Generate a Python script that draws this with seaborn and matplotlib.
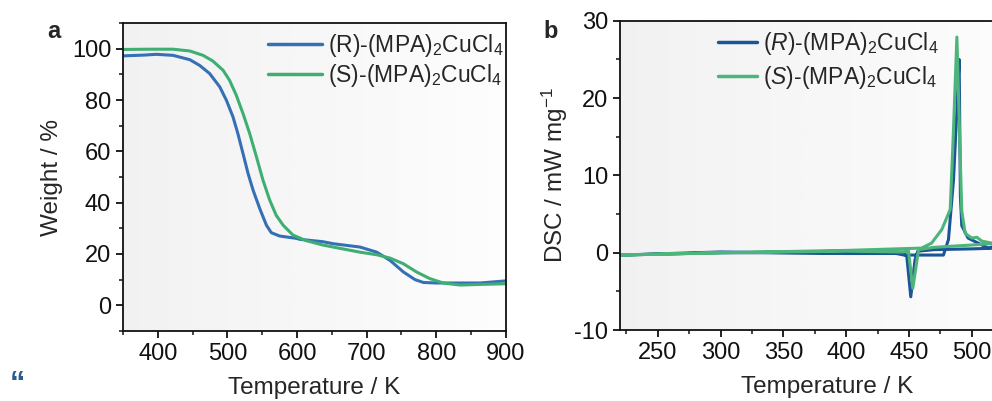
import numpy as np
import pandas as pd
import matplotlib
matplotlib.use("Agg")
import matplotlib.pyplot as plt
from matplotlib.ticker import MultipleLocator
import seaborn as sns

# TGA (panel a)
tga_R_T = [350, 380, 398, 422, 446, 460, 474.5, 489, 498.5, 508, 515, 522.4, 529.6, 536.8, 546.4, 556,
           563, 575, 599, 604, 637, 652, 690.5, 714.5, 733.6, 752.7, 769.5, 781.5, 800, 820, 863, 899]
tga_R = [97.2, 97.5, 97.8, 97.4, 95.7, 93.5, 90.3, 85.1, 79.9, 73.4, 66.9, 59.1, 51.4, 44.9, 37.7, 31.2,
         28.3, 27.0, 26.1, 25.7, 24.8, 24.0, 22.7, 20.7, 17.5, 13.0, 10.0, 8.9, 8.7, 8.7, 8.7, 9.5]
tga_S_T = [350, 390, 422, 446, 465, 479, 493.7, 503, 512.8, 522.4, 532, 541.6, 551, 560.7, 570, 580,
           594, 613, 637, 652, 690.5, 714.5, 733.6, 752.7, 771.6, 790.7, 810, 834, 858, 899]
tga_S = [99.7, 99.8, 99.8, 99.1, 97.4, 95.2, 91.6, 87.7, 81.8, 74.7, 66.9, 57.9, 48.8, 41.0, 35.1, 31.2,
         27.4, 25.2, 23.5, 22.7, 20.7, 19.7, 18.4, 16.2, 13.0, 10.4, 8.7, 7.9, 8.1, 8.4]

# DSC (panel b): heating branch then cooling branch
dsc_R_T = [220, 300, 400, 440, 446, 477.4, 481.4, 485.4, 488, 489.9, 490.9, 492, 497, 508, 513, 517.5, 540,
           540, 500, 470, 457, 454.8, 451.4, 448.2, 445, 400, 350, 300, 220]
dsc_R = [-0.3, 0.0, 0.0, -0.1, -0.3, -0.3, 1.7, 9.4, 18.1, 25.0, 7.3, 3.5, 1.9, 1.0, 0.6, 0.8, 0.9,
         0.7, 0.5, 0.4, 0.2, -0.9, -5.7, -0.4, -0.1, -0.1, 0.0, 0.1, -0.3]
dsc_S_T = [220, 300, 400, 460, 468, 476.1, 482.8, 485.4, 488.1, 490.9, 492, 494.7, 500, 504, 508, 517.5, 540,
           540, 517.5, 500, 470, 457.6, 453, 449.6, 445, 400, 300, 220]
dsc_S = [-0.3, 0.0, 0.3, 0.6, 1.25, 3.0, 5.6, 15.9, 27.9, 11.6, 5.4, 2.5, 1.9, 2.0, 1.5, 1.2, 1.1,
         1.3, 1.2, 1.0, 0.7, 0.4, -4.6, 0.2, 0.1, 0.2, 0.0, -0.3]

tga = pd.concat([
    pd.DataFrame({"T": tga_R_T, "w": tga_R, "s": "(R)-(MPA)$_2$CuCl$_4$"}),
    pd.DataFrame({"T": tga_S_T, "w": tga_S, "s": "(S)-(MPA)$_2$CuCl$_4$"}),
])
dsc = pd.concat([
    pd.DataFrame({"T": dsc_R_T, "d": dsc_R, "s": "($\\it{R}$)-(MPA)$_2$CuCl$_4$"}),
    pd.DataFrame({"T": dsc_S_T, "d": dsc_S, "s": "($\\it{S}$)-(MPA)$_2$CuCl$_4$"}),
])

sns.set_style("ticks")
plt.rcParams["font.family"] = ["Liberation Sans", "DejaVu Sans"]
plt.rcParams["mathtext.fontset"] = "custom"
plt.rcParams["mathtext.rm"] = "Liberation Sans"
plt.rcParams["mathtext.it"] = "Liberation Sans:italic"
plt.rcParams["mathtext.bf"] = "Liberation Sans:bold"
plt.rcParams["axes.unicode_minus"] = False

fig = plt.figure(figsize=(9.92, 4.01), dpi=100)
ax1 = fig.add_axes([0.124, 0.1746, 0.386, 0.768])
ax2 = fig.add_axes([0.625, 0.177, 0.418, 0.771])

grad = np.linspace(0, 1, 256).reshape(1, -1)
for ax in (ax1, ax2):
    ax.imshow(grad, extent=[0, 1, 0, 1], transform=ax.transAxes, cmap="Greys_r",
              vmin=-9, vmax=1.15, aspect="auto", zorder=0)

sns.lineplot(data=tga, x="T", y="w", hue="s", palette=["#3570b5", "#3fae72"],
             linewidth=2.2, ax=ax1, estimator=None, sort=False)
sns.lineplot(data=dsc, x="T", y="d", hue="s", palette=["#1c5596", "#4db47c"],
             linewidth=2.2, ax=ax2, estimator=None, sort=False, units="s")

ax1.set_xlim(350, 900)
ax1.set_ylim(-10, 110)
ax1.xaxis.set_major_locator(MultipleLocator(100))
ax1.xaxis.set_minor_locator(MultipleLocator(50))
ax1.yaxis.set_major_locator(MultipleLocator(20))
ax1.yaxis.set_minor_locator(MultipleLocator(10))
ax1.set_xlabel("Temperature / K", fontsize=17.5, labelpad=9)
ax1.set_ylabel("Weight / %", fontsize=17.5, labelpad=6)

ax2.set_xlim(220, 550)
ax2.set_ylim(-10, 30)
ax2.xaxis.set_major_locator(MultipleLocator(50))
ax2.xaxis.set_minor_locator(MultipleLocator(25))
ax2.yaxis.set_major_locator(MultipleLocator(10))
ax2.yaxis.set_minor_locator(MultipleLocator(5))
ax2.set_xlabel("Temperature / K", fontsize=17.5, labelpad=9)
ax2.set_ylabel("DSC / mW mg$^{-1}$", fontsize=17.5, labelpad=3)

for ax in (ax1, ax2):
    for sp in ax.spines.values():
        sp.set_visible(True)
        sp.set_linewidth(1.3)
        sp.set_color("#111111")
    ax.tick_params(which="major", direction="out", length=5, width=1.3, labelsize=17, colors="#111111")
    ax.tick_params(which="minor", direction="out", length=3, width=1.1, colors="#111111")
    ax.tick_params(top=False, right=False, which="both")

leg1 = ax1.legend(loc="upper left", frameon=False, fontsize=16.5, handlelength=2.35,
                  handletextpad=0.25, labelspacing=0.12, borderaxespad=0.0,
                  bbox_to_anchor=(0.355, 1.0))
leg2 = ax2.legend(loc="upper left", frameon=False, fontsize=16.5, handlelength=1.7,
                  handletextpad=0.25, labelspacing=0.3, borderaxespad=0.0,
                  bbox_to_anchor=(0.215, 1.0))
for leg in (leg1, leg2):
    for h in leg.get_lines():
        h.set_linewidth(2.5)

fig.text(0.048, 0.905, "a", fontsize=17, fontweight="bold")
fig.text(0.548, 0.905, "b", fontsize=17, fontweight="bold")
fig.text(0.01, 0.02, "\u201c", fontsize=22, fontweight="bold", color="#2c5b8e")

fig.savefig("out.png", dpi=100)
